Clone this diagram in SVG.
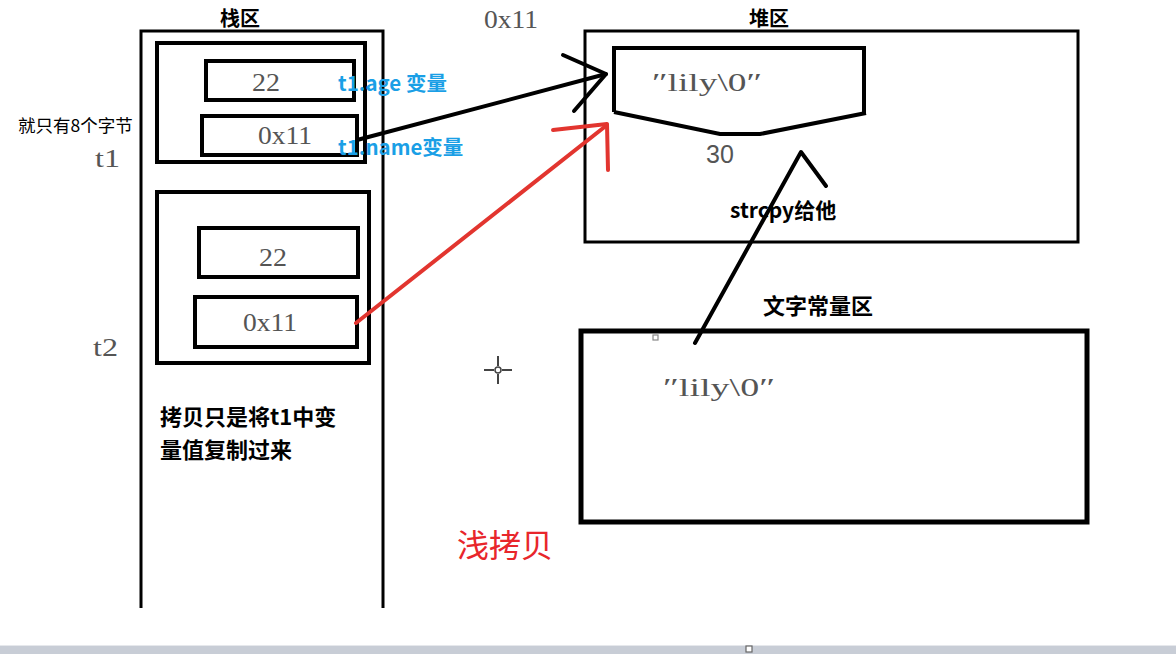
<svg xmlns="http://www.w3.org/2000/svg" width="1176" height="654" viewBox="0 0 1176 654">
  <style>
    .box { fill: none; stroke: #000; stroke-width: 4; }
    .thin { fill: none; stroke: #000; stroke-width: 3; }
    .val { font-family: "Liberation Serif", "Times New Roman", serif; font-size: 25px; fill: #555; }
    .lbl { font-family: "Noto Sans CJK SC", sans-serif; font-weight: bold; fill: #000; }
    .blue { font-family: "Noto Sans CJK SC", sans-serif; font-weight: bold; font-size: 20.5px; fill: #1a9fe6; }
    .blk { fill: none; stroke: #000; stroke-width: 4; stroke-linecap: round; stroke-linejoin: round; }
    .red { fill: none; stroke: #e2352f; stroke-width: 4; stroke-linecap: round; stroke-linejoin: round; }
  </style>

  <rect width="1176" height="654" fill="#fff"/>

  <!-- stack region -->
  <g id="stack">
    <path class="thin" d="M141 608 V31 H383 V608"/>
    <text class="lbl" x="240" y="26" font-size="20" text-anchor="middle">栈区</text>
  </g>

  <g id="t1">
    <rect class="box" x="157" y="43" width="208" height="119"/>
    <rect class="box" x="206" y="61" width="148" height="39"/>
    <text class="val" x="252" y="91" textLength="28" lengthAdjust="spacingAndGlyphs">22</text>
    <rect class="box" x="202" y="116" width="155" height="39"/>
    <text class="val" x="258" y="144" textLength="54" lengthAdjust="spacingAndGlyphs">0x11</text>
    <text class="val" x="95" y="167" textLength="25" lengthAdjust="spacingAndGlyphs">t1</text>
    <text x="18" y="132" font-family="Noto Sans CJK SC, sans-serif" font-size="17.5" fill="#000">就只有8个字节</text>
    <text class="blue" x="338" y="91">t1.age 变量</text>
    <text class="blue" x="338" y="155">t1.name变量</text>
  </g>

  <g id="t2">
    <rect class="box" x="157" y="192" width="212" height="171"/>
    <rect class="box" x="199" y="228" width="159" height="49"/>
    <text class="val" x="259" y="266" textLength="28" lengthAdjust="spacingAndGlyphs">22</text>
    <rect class="box" x="195" y="297" width="162" height="50"/>
    <text class="val" x="243" y="331" textLength="54" lengthAdjust="spacingAndGlyphs">0x11</text>
    <text class="val" x="93" y="356" textLength="25" lengthAdjust="spacingAndGlyphs">t2</text>
    <text class="lbl" x="160" y="425" font-size="22">拷贝只是将t1中变</text>
    <text class="lbl" x="160" y="458" font-size="22">量值复制过来</text>
  </g>

  <!-- heap region -->
  <g id="heap">
    <rect class="thin" x="585" y="31" width="493" height="211"/>
    <text class="lbl" x="769" y="26" font-size="20" text-anchor="middle">堆区</text>
    <text class="val" x="484" y="28" textLength="54" lengthAdjust="spacingAndGlyphs">0x11</text>
    <path class="box" d="M614 112 V48 H864 V113"/>
    <path class="box" d="M614 112 L720 134 L760 134 L866 113"/>
    <text class="val" x="652" y="91" textLength="110" lengthAdjust="spacingAndGlyphs">″lily\0″</text>
    <text x="720" y="163" font-family="Liberation Sans, Arial, sans-serif" font-size="25" fill="#555" text-anchor="middle">30</text>
    <text class="lbl" x="730" y="218" font-size="21">strcpy给他</text>
  </g>

  <!-- literal constant region -->
  <g id="literals">
    <rect x="581" y="331" width="506" height="191" fill="none" stroke="#000" stroke-width="5"/>
    <text class="lbl" x="763" y="314" font-size="22">文字常量区</text>
    <text class="val" x="663" y="396" textLength="112" lengthAdjust="spacingAndGlyphs">″lily\0″</text>
    <rect x="653" y="335" width="5" height="5" fill="none" stroke="#888" stroke-width="1.2"/>
  </g>

  <g id="caption">
    <text x="457" y="557" font-family="Noto Sans CJK SC, sans-serif" font-size="32" fill="#e8262b">浅拷贝</text>
  </g>

  <!-- connectors -->
  <g id="connectors">
    <path class="blk" d="M357 140 L606 74"/>
    <path class="blk" d="M563 55 L606 74 L574 111"/>
    <path class="red" d="M356 323 L607 125"/>
    <path class="red" d="M553 130 L607 124 L608 170"/>
    <path class="blk" d="M695 343 L801 152 L826 186"/>
  </g>

  <!-- crosshair cursor -->
  <g id="cursor" stroke="#444" stroke-width="2" fill="none">
    <path d="M498 356 V366 M498 374 V384 M484 370 H494 M502 370 H512"/>
    <circle cx="498" cy="370" r="3" stroke-width="1.5"/>
  </g>

  <!-- window scrollbar -->
  <g id="scrollbar">
    <rect x="0" y="645" width="1176" height="9" fill="#c8cdd6"/>
    <rect x="0" y="645" width="1176" height="1" fill="#e6e8ec"/>
    <rect x="746" y="646" width="6" height="6" fill="#fff" stroke="#666" stroke-width="1.2"/>
  </g>
</svg>
